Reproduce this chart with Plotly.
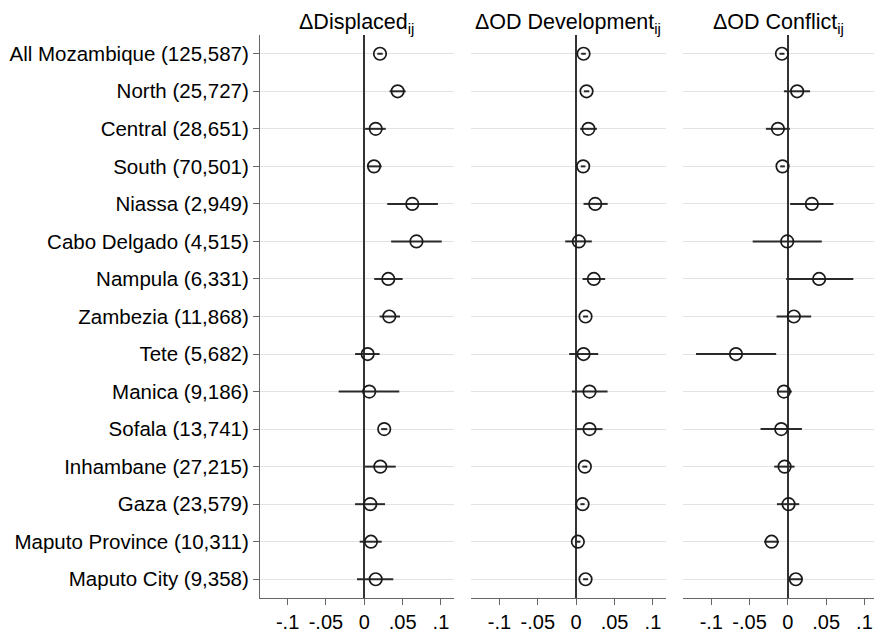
import plotly.graph_objects as go

labels = ["All Mozambique (125,587)", "North (25,727)", "Central (28,651)", "South (70,501)",
          "Niassa (2,949)", "Cabo Delgado (4,515)", "Nampula (6,331)", "Zambezia (11,868)",
          "Tete (5,682)", "Manica (9,186)", "Sofala (13,741)", "Inhambane (27,215)",
          "Gaza (23,579)", "Maputo Province (10,311)", "Maputo City (9,358)"]

panel_titles = ["ΔDisplaced<sub>ij</sub>", "ΔOD Development<sub>ij</sub>", "ΔOD Conflict<sub>ij</sub>"]

disp_coef = [0.0205, 0.0435, 0.0149, 0.0127, 0.0626, 0.068, 0.0313, 0.0326, 0.0044, 0.0065, 0.026, 0.0209, 0.0078, 0.0087, 0.0149]
disp_lo   = [0.017, 0.033, 0.001, 0.0044, 0.030, 0.035, 0.013, 0.020, -0.012, -0.0334, 0.022, 0.001, -0.012, -0.006, -0.0095]
disp_hi   = [0.024, 0.054, 0.028, 0.0227, 0.096, 0.101, 0.050, 0.0466, 0.020, 0.0456, 0.030, 0.041, 0.027, 0.0227, 0.0378]

dev_coef = [0.0096, 0.0135, 0.016, 0.0091, 0.0248, 0.0035, 0.023, 0.0122, 0.0096, 0.0174, 0.0174, 0.0113, 0.0083, 0.0022, 0.0122]
dev_lo   = [0.0065, 0.0100, 0.0052, 0.006, 0.0096, -0.0143, 0.0083, 0.0090, -0.0091, -0.0056, 0.0009, 0.0080, 0.0055, -0.0010, 0.0090]
dev_hi   = [0.0125, 0.0170, 0.027, 0.012, 0.041, 0.0204, 0.0378, 0.0155, 0.0287, 0.0409, 0.0343, 0.0145, 0.0110, 0.0055, 0.0155]

conf_coef = [-0.0078, 0.0121, -0.013, -0.007, 0.0313, -0.0009, 0.0408, 0.0078, -0.0678, -0.0052, -0.0087, -0.0043, 0.0009, -0.0213, 0.0104]
conf_lo   = [-0.0110, -0.0052, -0.0287, -0.0100, 0.003, -0.046, -0.0022, -0.0148, -0.120, -0.0143, -0.0357, -0.0178, -0.0143, -0.031, 0.003]
conf_hi   = [-0.0045, 0.029, 0.0026, -0.0040, 0.0595, 0.0443, 0.0855, 0.0304, -0.0153, 0.0052, 0.0183, 0.0087, 0.0148, -0.0117, 0.019]

xtick_vals = [-0.1, -0.05, 0, 0.05, 0.1]
xtick_text = ["-.1", "-.05", "0", ".05", ".1"]

panels = [(disp_coef, disp_lo, disp_hi), (dev_coef, dev_lo, dev_hi), (conf_coef, conf_lo, conf_hi)]
domains = [[260/874, 454/874], [471/874, 666/874], [683/874, 1.0]]
xranges = [[-0.136, 0.117], [-0.137, 0.117], [-0.137, 0.1125]]

ypos = list(range(1, len(labels) + 1))
ink = "#1a1a1a"
font = "Liberation Sans, Arial, Helvetica, sans-serif"

fig = go.Figure()
for i, (c, lo, hi) in enumerate(panels):
    xa = "x" if i == 0 else f"x{i+1}"
    ya = "y" if i == 0 else f"y{i+1}"
    fig.add_trace(go.Scatter(
        x=c, y=ypos, xaxis=xa, yaxis=ya, mode="markers",
        marker=dict(symbol="circle-open", size=12.5, color=ink, line=dict(width=1.7, color=ink)),
        error_x=dict(type="data", symmetric=False,
                     array=[h - v for h, v in zip(hi, c)],
                     arrayminus=[v - l for v, l in zip(c, lo)],
                     width=0, thickness=2, color="#2a2a2a"),
        showlegend=False, hoverinfo="skip"))

layout = dict(
    width=874, height=633,
    margin=dict(l=0, r=0, t=35, b=35, autoexpand=False),
    plot_bgcolor="white", paper_bgcolor="white",
    font=dict(family=font, size=20, color="black"),
    showlegend=False,
)
for i in range(3):
    xk = "xaxis" if i == 0 else f"xaxis{i+1}"
    yk = "yaxis" if i == 0 else f"yaxis{i+1}"
    ya = "y" if i == 0 else f"y{i+1}"
    xa = "x" if i == 0 else f"x{i+1}"
    layout[xk] = dict(domain=domains[i], anchor=ya, range=xranges[i], automargin=False,
                      tickvals=xtick_vals, ticktext=xtick_text,
                      showgrid=False, zeroline=True, zerolinecolor="#333333", zerolinewidth=1.6,
                      showline=True, linecolor="#666666", linewidth=1.2,
                      ticks="outside", ticklen=6, tickcolor="#666666", tickwidth=1.2,
                      tickfont=dict(size=20, family=font, color="black"), fixedrange=True)
    ydict = dict(domain=[0, 1], anchor=xa, range=[15.5, 0.5], automargin=False,
                 tickvals=ypos, ticktext=labels,
                 showgrid=True, gridcolor="#e2e2e2", gridwidth=1.3, zeroline=False,
                 fixedrange=True)
    if i == 0:
        ydict.update(showline=True, linecolor="#666666", linewidth=1.2,
                     ticks="outside", ticklen=6, tickcolor="#666666", tickwidth=1.2,
                     showticklabels=True, tickfont=dict(size=20.5, family=font, color="black"))
    else:
        ydict.update(showline=False, ticks="", showticklabels=False, matches="y")
    layout[yk] = ydict

annotations = []
for i, t in enumerate(panel_titles):
    annotations.append(dict(text=t, x=(domains[i][0] + domains[i][1]) / 2, y=1,
                            xref="paper", yref="paper", xanchor="center", yanchor="bottom",
                            yshift=-4, showarrow=False,
                            font=dict(size=21.5, family=font, color="black")))
layout["annotations"] = annotations
fig.update_layout(**layout)
fig.write_html("out.html", config={"displayModeBar": False},
               post_script="document.body.style.margin='0';document.body.style.padding='0';")
